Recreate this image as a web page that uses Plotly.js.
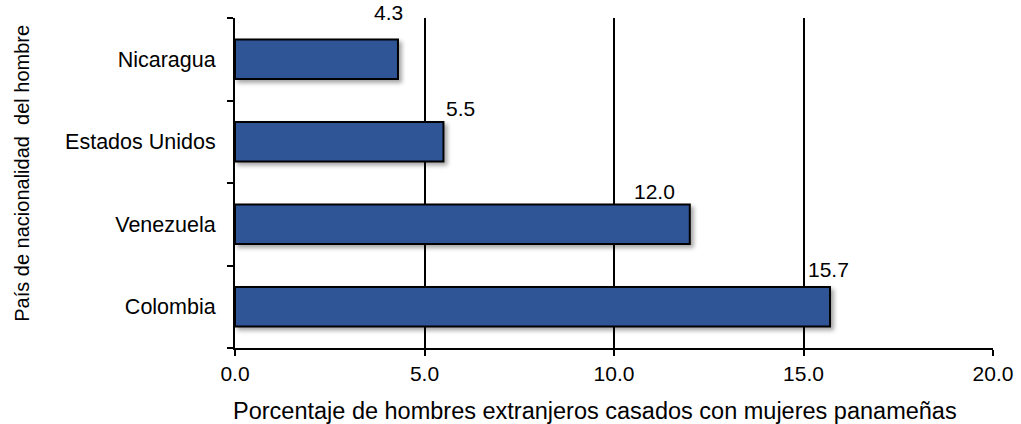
<!DOCTYPE html>
<html><head><meta charset="utf-8">
<script src="https://cdn.plot.ly/plotly-3.0.1.min.js"></script>
<style>
html,body{margin:0;padding:0;background:#fff}
#chart .bars .point path{filter:drop-shadow(3px 3px 2px rgba(0,0,0,0.35))}
</style>
</head><body>
<div id="chart" style="width:1021px;height:424px"></div>
<script>
const countries = ["Colombia", "Venezuela", "Estados Unidos", "Nicaragua"];
const percentages = [15.7, 12.0, 5.5, 4.3];
const xTickValues = [0, 5, 10, 15, 20];
const xTickLabels = ["0.0", "5.0", "10.0", "15.0", "20.0"];
const labelXShift = [-2, -35, 17, -9];
const labelYShift = [37, 33, 33, 47];
const xTitle = "Porcentaje de hombres extranjeros casados con mujeres panameñas";
const yTitle = "País de nacionalidad  del hombre";

const FONT = "Liberation Sans, Arial, sans-serif";

const trace = {
  type: "bar",
  orientation: "h",
  x: percentages,
  y: countries,
  width: 0.48,
  marker: { color: "#2F5597", line: { color: "#000", width: 2 } },
  hoverinfo: "none"
};

const annotations = percentages.map((v, i) => ({
  x: v, y: countries[i], xref: "x", yref: "y",
  text: v.toFixed(1), showarrow: false,
  xanchor: "center", yanchor: "middle",
  yshift: labelYShift[i], xshift: labelXShift[i],
  font: { family: FONT, size: 21, color: "#000" }
}));

annotations.push({
  xref: "paper", yref: "paper", x: -0.2814, y: 0.53,
  xanchor: "center", yanchor: "middle", textangle: -90,
  text: yTitle, showarrow: false,
  font: { family: FONT, size: 20, color: "#000" }
});
annotations.push({
  xref: "paper", yref: "paper", x: 0.4743, y: -0.19,
  xanchor: "center", yanchor: "middle",
  text: xTitle, showarrow: false,
  font: { family: FONT, size: 23.5, color: "#000" }
});

const layout = {
  width: 1021, height: 424,
  margin: { l: 235, r: 28, t: 18, b: 76 },
  paper_bgcolor: "#fff", plot_bgcolor: "#fff",
  showlegend: false,
  font: { family: FONT, color: "#000" },
  xaxis: {
    range: [0, 20], autorange: false, tickvals: xTickValues, ticktext: xTickLabels,
    showgrid: true, gridcolor: "#000", gridwidth: 2,
    showline: true, linecolor: "#000", linewidth: 2,
    ticks: "outside", ticklen: 6, tickcolor: "#000", tickwidth: 2,
    ticklabelstandoff: 0,
    zeroline: false, fixedrange: true,
    tickfont: { size: 21, family: FONT }
  },
  yaxis: {
    type: "category", categoryorder: "array", categoryarray: countries,
    range: [-0.5, 3.5], autorange: false,
    showline: true, linecolor: "#000", linewidth: 2,
    ticks: "outside", tickson: "boundaries", ticklen: 6, tickcolor: "#000", tickwidth: 2,
    showgrid: false, zeroline: false, fixedrange: true,
    tickfont: { size: 21.5, family: FONT },
    ticklabelstandoff: 13
  },
  annotations: annotations
};

Plotly.newPlot("chart", [trace], layout, { displayModeBar: false, staticPlot: true });
</script>
</body></html>
